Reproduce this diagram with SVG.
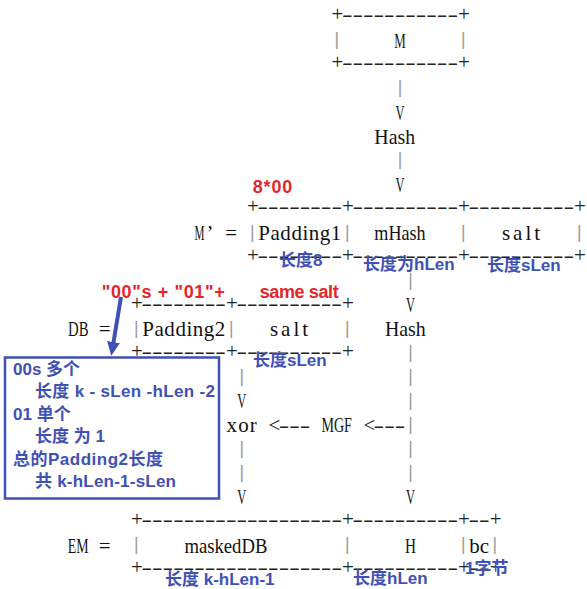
<svg xmlns="http://www.w3.org/2000/svg" width="587" height="589" viewBox="0 0 587 589">
<defs>
<style>
.p{font-family:"Liberation Serif",serif;font-size:21px;fill:#222}
.b{font-family:"Liberation Mono",monospace;font-size:17.58px;fill:#9a9a9a}
.w{font-family:"Liberation Serif",serif;font-size:21px;fill:#111}
.eq{font-family:"Liberation Serif",serif;font-size:21px;fill:#111;text-anchor:middle}
.lb{font-family:"Liberation Sans","Noto Sans CJK SC",sans-serif;font-weight:bold;font-size:17px;fill:#3f51b5}
.rd{font-family:"Liberation Sans","Noto Sans CJK SC",sans-serif;font-weight:bold;font-size:18px;fill:#e3262b}
</style>
<marker id="ah" markerUnits="userSpaceOnUse" markerWidth="14" markerHeight="13" viewBox="0 0 14 13" refX="2" refY="6.5" orient="auto">
<path d="M0,0 L14,6.5 L0,13 z" fill="#3f51b5"/>
</marker>
</defs>
<rect width="587" height="589" fill="#fff"/>

<g id="node-M">
<text class="p" y="21.1"><tspan x="331.4">+</tspan><tspan x="341.95" textLength="116.05" lengthAdjust="spacingAndGlyphs">-----------</tspan><tspan x="458">+</tspan></text>
<text class="b" x="336.7" y="45.1" text-anchor="middle">|</text>
<text class="w" x="394.2" y="47.6" textLength="11.5" lengthAdjust="spacingAndGlyphs">M</text>
<text class="b" x="463.3" y="45.1" text-anchor="middle">|</text>
<text class="p" y="69.2"><tspan x="331.4">+</tspan><tspan x="341.95" textLength="116.05" lengthAdjust="spacingAndGlyphs">-----------</tspan><tspan x="458">+</tspan></text>
</g>

<g id="node-hash1">
<text class="w" x="374.3" y="143.8" textLength="40.8" lengthAdjust="spacingAndGlyphs">Hash</text>
</g>

<g id="node-Mprime">
<text class="p" y="213.4"><tspan x="247">+</tspan><tspan x="257.55" textLength="84.4" lengthAdjust="spacingAndGlyphs">--------</tspan><tspan x="341.95">+</tspan><tspan x="352.5" textLength="105.5" lengthAdjust="spacingAndGlyphs">----------</tspan><tspan x="458">+</tspan><tspan x="468.55" textLength="105.5" lengthAdjust="spacingAndGlyphs">----------</tspan><tspan x="574.05">+</tspan></text>
<text class="w" y="240"><tspan x="194.5" textLength="10" lengthAdjust="spacingAndGlyphs">M</tspan><tspan x="206.5">’</tspan></text>
<text class="eq" x="231.2" y="240">=</text>
<text class="b" x="252.3" y="237.5" text-anchor="middle">|</text>
<text class="w" x="258.3" y="240" textLength="83">Padding1</text>
<text class="b" x="347.2" y="237.5" text-anchor="middle">|</text>
<text class="w" x="374.3" y="240" textLength="51.3" lengthAdjust="spacingAndGlyphs">mHash</text>
<text class="b" x="463.3" y="237.5" text-anchor="middle">|</text>
<text class="w" x="502" y="240" textLength="38">salt</text>
<text class="b" x="579.3" y="237.5" text-anchor="middle">|</text>
<text class="p" y="261.5"><tspan x="247">+</tspan><tspan x="257.55" textLength="84.4" lengthAdjust="spacingAndGlyphs">--------</tspan><tspan x="341.95">+</tspan><tspan x="352.5" textLength="105.5" lengthAdjust="spacingAndGlyphs">----------</tspan><tspan x="458">+</tspan><tspan x="468.55" textLength="105.5" lengthAdjust="spacingAndGlyphs">----------</tspan><tspan x="574.05">+</tspan></text>
</g>

<g id="node-DB">
<text class="w" x="68" y="336.1" textLength="20.5" lengthAdjust="spacingAndGlyphs">DB</text>
<text class="eq" x="104.6" y="336.1">=</text>
<text class="p" y="309.6"><tspan x="130.95">+</tspan><tspan x="141.5" textLength="84.4" lengthAdjust="spacingAndGlyphs">--------</tspan><tspan x="225.9">+</tspan><tspan x="236.45" textLength="105.5" lengthAdjust="spacingAndGlyphs">----------</tspan><tspan x="341.95">+</tspan></text>
<text class="b" x="136.2" y="333.6" text-anchor="middle">|</text>
<text class="w" x="142.3" y="336.1" textLength="83">Padding2</text>
<text class="b" x="231.2" y="333.6" text-anchor="middle">|</text>
<text class="w" x="270" y="336.1" textLength="38">salt</text>
<text class="b" x="347.2" y="333.6" text-anchor="middle">|</text>
<text class="p" y="357.7"><tspan x="130.95">+</tspan><tspan x="141.5" textLength="84.4" lengthAdjust="spacingAndGlyphs">--------</tspan><tspan x="225.9">+</tspan><tspan x="236.45" textLength="105.5" lengthAdjust="spacingAndGlyphs">----------</tspan><tspan x="341.95">+</tspan></text>
</g>

<g id="node-hash2">
<text class="w" x="384.9" y="336.1" textLength="40.8" lengthAdjust="spacingAndGlyphs">Hash</text>
</g>

<g id="node-xor">
<text class="w" x="226.6" y="432.3" textLength="30.2">xor</text>
</g>

<g id="node-MGF">
<text class="w" x="321.4" y="432.3" textLength="30.5" lengthAdjust="spacingAndGlyphs">MGF</text>
</g>

<g id="node-EM">
<text class="w" x="67.8" y="552.5" textLength="20.8" lengthAdjust="spacingAndGlyphs">EM</text>
<text class="eq" x="104.6" y="552.5">=</text>
<text class="p" y="525.9"><tspan x="130.95">+</tspan><tspan x="141.5" textLength="200.45" lengthAdjust="spacingAndGlyphs">-------------------</tspan><tspan x="341.95">+</tspan><tspan x="352.5" textLength="105.5" lengthAdjust="spacingAndGlyphs">----------</tspan><tspan x="458">+</tspan><tspan x="468.55" textLength="21.1" lengthAdjust="spacingAndGlyphs">--</tspan><tspan x="489.65">+</tspan></text>
<text class="b" x="136.2" y="550" text-anchor="middle">|</text>
<text class="w" x="184.4" y="552.5" textLength="83" lengthAdjust="spacingAndGlyphs">maskedDB</text>
<text class="b" x="347.2" y="550" text-anchor="middle">|</text>
<text class="w" x="405" y="552.5" textLength="11" lengthAdjust="spacingAndGlyphs">H</text>
<text class="b" x="463.3" y="550" text-anchor="middle">|</text>
<text class="w" x="469.2" y="552.5" textLength="20">bc</text>
<text class="b" x="494.9" y="550" text-anchor="middle">|</text>
<text class="p" y="574"><tspan x="130.95">+</tspan><tspan x="141.5" textLength="200.45" lengthAdjust="spacingAndGlyphs">-------------------</tspan><tspan x="341.95">+</tspan><tspan x="352.5" textLength="105.5" lengthAdjust="spacingAndGlyphs">----------</tspan><tspan x="458">+</tspan><tspan x="468.55" textLength="21.1" lengthAdjust="spacingAndGlyphs">--</tspan><tspan x="489.65">+</tspan></text>
</g>

<g id="connectors">
<text class="b" x="400" y="93.2" text-anchor="middle">|</text>
<text class="w" x="395.5" y="119.8" textLength="9" lengthAdjust="spacingAndGlyphs">V</text>
<text class="b" x="400" y="165.3" text-anchor="middle">|</text>
<text class="w" x="395.5" y="191.9" textLength="9" lengthAdjust="spacingAndGlyphs">V</text>
<text class="b" x="410.5" y="285.5" text-anchor="middle">|</text>
<text class="w" x="406" y="312.1" textLength="9" lengthAdjust="spacingAndGlyphs">V</text>
<text class="b" x="410.5" y="357.7" text-anchor="middle">|</text>
<text class="b" x="410.5" y="381.7" text-anchor="middle">|</text>
<text class="b" x="410.5" y="405.7" text-anchor="middle">|</text>
<text class="b" x="410.5" y="429.8" text-anchor="middle">|</text>
<text class="b" x="410.5" y="453.8" text-anchor="middle">|</text>
<text class="b" x="410.5" y="477.9" text-anchor="middle">|</text>
<text class="w" x="406" y="504.4" textLength="9" lengthAdjust="spacingAndGlyphs">V</text>
<text class="b" x="241.7" y="381.7" text-anchor="middle">|</text>
<text class="w" x="237.2" y="408.2" textLength="9" lengthAdjust="spacingAndGlyphs">V</text>
<text class="b" x="241.7" y="453.8" text-anchor="middle">|</text>
<text class="b" x="241.7" y="477.9" text-anchor="middle">|</text>
<text class="w" x="237.2" y="504.4" textLength="9" lengthAdjust="spacingAndGlyphs">V</text>
<text class="p" y="432.3"><tspan x="268.6">&lt;</tspan><tspan x="278.65" textLength="31.65" lengthAdjust="spacingAndGlyphs">---</tspan></text>
<text class="p" y="432.3"><tspan x="363.55">&lt;</tspan><tspan x="373.6" textLength="31.65" lengthAdjust="spacingAndGlyphs">---</tspan></text>
</g>

<g id="annotations">
<text class="rd" x="252.7" y="193" textLength="39.6">8*00</text>
<text class="rd" x="101.7" y="298" textLength="123">"00"s + "01"+</text>
<text class="rd" x="259.7" y="298" textLength="79">same salt</text>
<text class="lb" x="279" y="266">长度8</text>
<text class="lb" x="363" y="270">长度为hLen</text>
<text class="lb" x="487" y="271">长度sLen</text>
<text class="lb" x="253" y="366">长度sLen</text>
<text class="lb" x="165" y="585">长度 k-hLen-1</text>
<text class="lb" x="353" y="584">长度hLen</text>
<text class="lb" x="465" y="574">1字节</text>
<line x1="121" y1="297" x2="113.2" y2="344" stroke="#3f51b5" stroke-width="4" marker-end="url(#ah)"/>
<rect x="5" y="357.5" width="214" height="141" fill="none" stroke="#3f51b5" stroke-width="2.5"/>
<text class="lb" x="13" y="375">00s 多个</text>
<text class="lb" x="35" y="397" textLength="180">长度 k - sLen -hLen -2</text>
<text class="lb" x="13" y="419.5">01 单个</text>
<text class="lb" x="35" y="442">长度 为 1</text>
<text class="lb" x="13" y="464.5" textLength="150">总的Padding2长度</text>
<text class="lb" x="35" y="487" textLength="141">共 k-hLen-1-sLen</text>
</g>
</svg>
